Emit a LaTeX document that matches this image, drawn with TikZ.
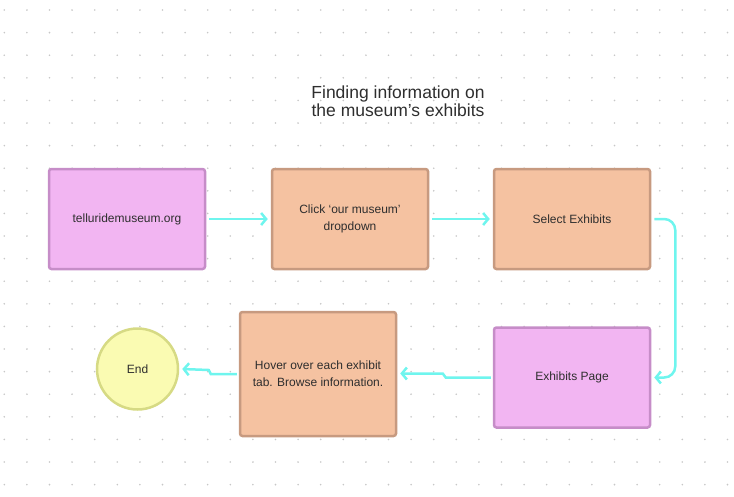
\documentclass[tikz,border=0pt]{standalone}
\usepackage{fontspec}
\setmainfont{Liberation Sans}
\usetikzlibrary{arrows.meta}

\definecolor{pinkfill}{HTML}{F2B5F2}
\definecolor{pinkline}{HTML}{C68DC8}
\definecolor{orangefill}{HTML}{F5C2A1}
\definecolor{orangeline}{HTML}{C79A80}
\definecolor{endfill}{HTML}{FAFBB2}
\definecolor{endline}{HTML}{D6DA84}
\definecolor{flowcyan}{HTML}{6FF5EE}
\definecolor{textgray}{HTML}{2E2E2E}

\tikzset{
  pinkbox/.style={draw=pinkline, fill=pinkfill, line width=2.5pt, rounded corners=2.5pt,
    minimum width=156pt, minimum height=100pt, align=center, text=textgray,
    font=\fontsize{12}{17}\selectfont},
  orangebox/.style={pinkbox, draw=orangeline, fill=orangefill},
  endnode/.style={circle, draw=endline, fill=endfill, line width=2.5pt,
    minimum size=81pt, text=textgray, font=\fontsize{12}{17}\selectfont},
  flow/.style={draw=flowcyan, line width=2.5pt,
    -{Straight Barb[length=5pt,width=12pt]}},
}

\begin{document}
\begin{tikzpicture}[x=1pt, y=-1pt]
  \useasboundingbox (0,0) rectangle (734,496);
  % dotted background
  \foreach \i in {0,...,32}
    \foreach \j in {0,...,21}
      \fill[black!22] (4.3+22.6*\i, 10+22.6*\j) circle (0.9pt);

  \node[text=textgray, align=center, font=\fontsize{17.5}{18}\selectfont]
    (title) at (398,101) {Finding information on\\the museum’s exhibits};

  \node[pinkbox] (site) at (127,219) {telluridemuseum.org};
  \node[orangebox] (click) at (350,219) {Click ‘our museum’\\dropdown};
  \node[orangebox] (select) at (572,219) {Select Exhibits};
  \node[pinkbox] (page) at (572,377.5) {Exhibits Page};
  \node[orangebox, minimum height=124pt] (hover) at (318,374) {Hover over each exhibit\\tab. Browse information.};
  \node[endnode] (end) at (137.5,369) {End};

  \draw[flow] ([xshift=3pt]site.east) -- ([xshift=-3pt]click.west);
  \draw[flow] ([xshift=3pt]click.east) -- ([xshift=-3pt]select.west);
  \draw[flow, rounded corners=11pt] ([xshift=3pt]select.east) -- ++(21,0) |- ([xshift=3pt]page.east);
  \draw[flow] ([xshift=-2pt]page.west) -- ++(-45,0) -- ++(-3,-4) -- ([xshift=3pt]hover.east |- 0,373.5);
  \draw[flow] ([xshift=-2pt]hover.west) -- ++(-26,0) -- ++(-2,-4) -- ([xshift=3pt]end.east);
\end{tikzpicture}
\end{document}
